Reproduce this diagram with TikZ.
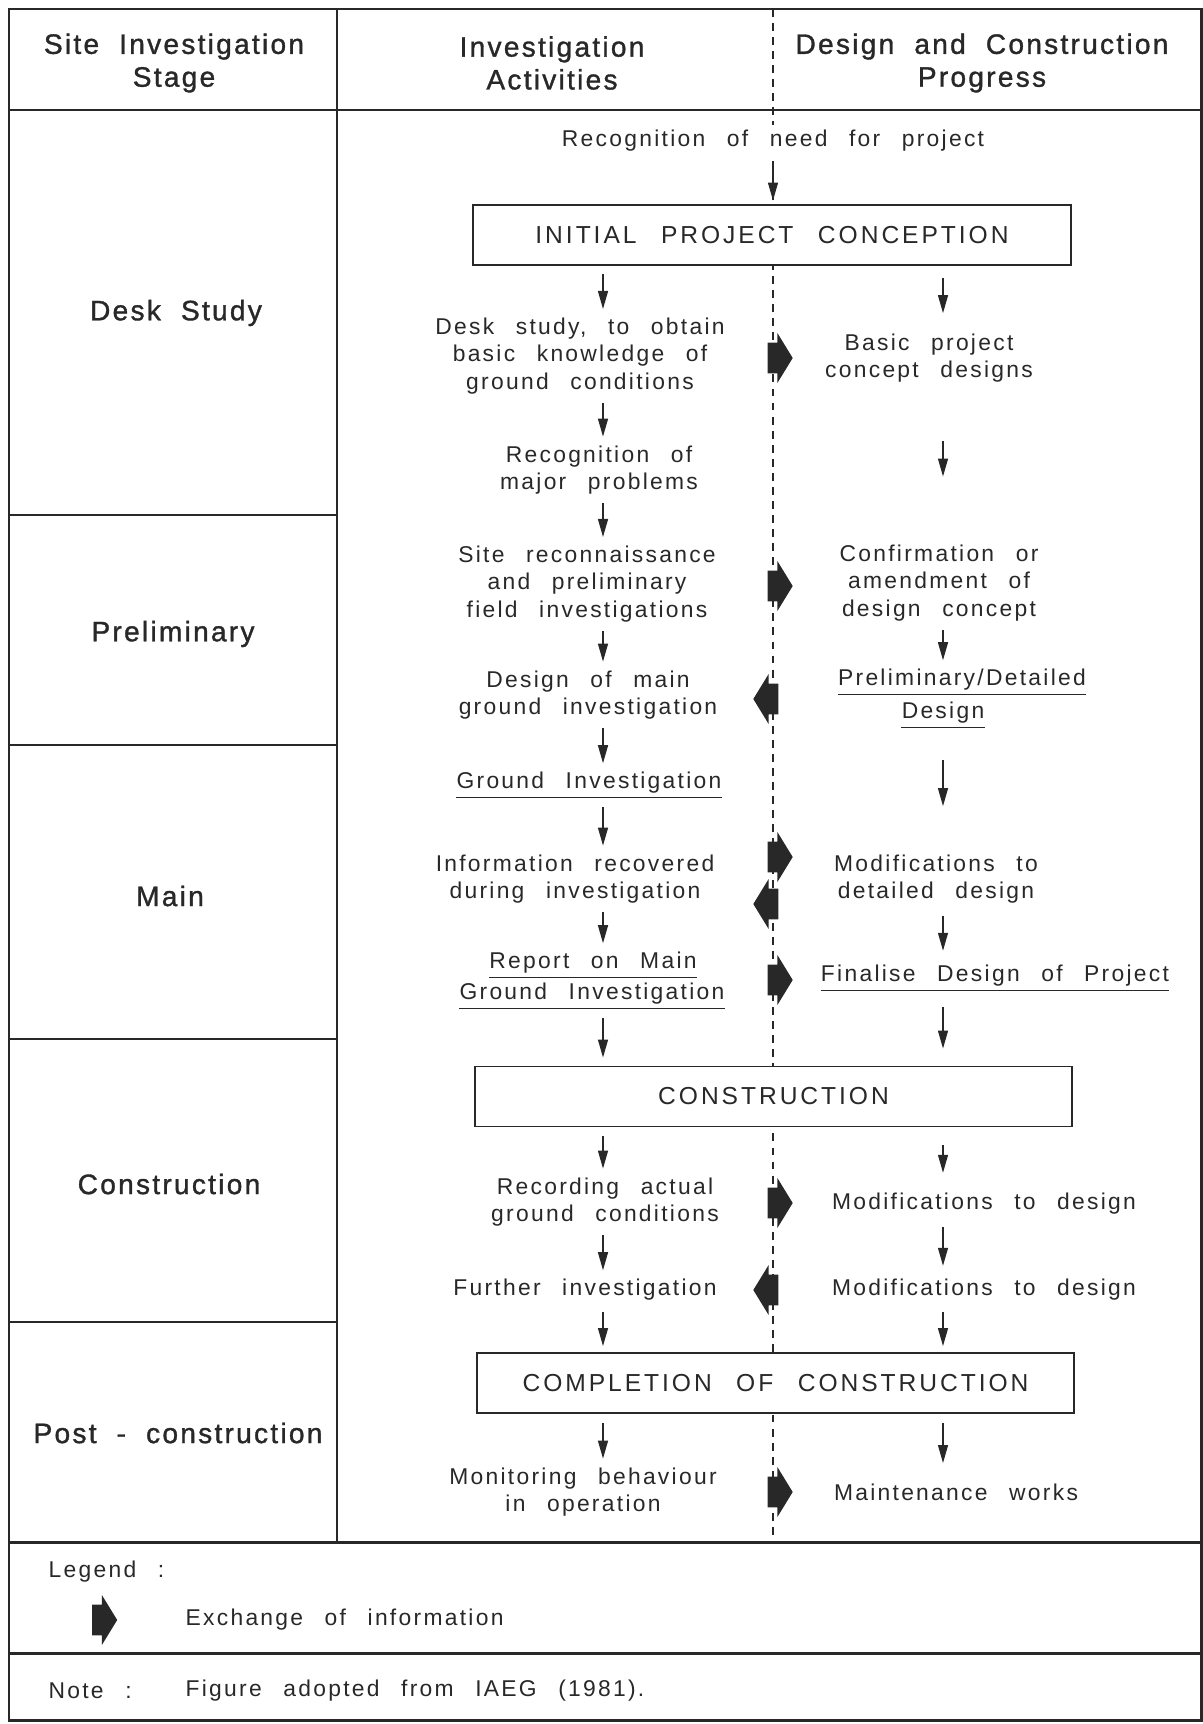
\documentclass[tikz,border=0pt]{standalone}
\usepackage{fontspec}
\setmainfont{Liberation Sans}[LetterSpace=10,WordSpace=2.5]
\newfontfamily\capsfont{Liberation Sans}[LetterSpace=12,WordSpace=2.5]
\newfontfamily\headfont{Liberation Sans}[LetterSpace=8,WordSpace=2,FakeBold=1.2]
\usetikzlibrary{arrows.meta}
\usetikzlibrary{shapes.arrows}
\definecolor{ink}{RGB}{40,40,40}

\tikzset{
  txt/.style={align=center, text=ink, inner sep=3pt, font=\fontsize{13}{15.5}\selectfont},
  ul/.style={txt, inner xsep=0pt},
  hdr/.style={align=center, text=ink, font=\headfont\fontsize{16}{18.7}\selectfont},
  bigbox/.style={draw=ink, line width=1.1pt, fill=white, minimum width=11.96cm, minimum height=1.2cm, text=ink, font=\capsfont\fontsize{14}{15}\selectfont},
  flow/.style={draw=ink, line width=0.75pt, -{Triangle[length=0.36cm,width=0.2cm]}, shorten <=2pt, shorten >=2pt},
  uline/.style={draw=ink, line width=0.8pt},
  xchg/.style={single arrow, fill=ink, draw=none, inner sep=0pt, text height=0.3cm, text depth=0.3cm, minimum height=0.5cm, single arrow head extend=0.19cm, single arrow tip angle=117}
}

\begin{document}
\begin{tikzpicture}[x=0.02cm, y=-0.02cm]
\useasboundingbox (0,0) rectangle (1203,1724);
\coordinate (colA) at (603,0);
\coordinate (colB) at (943,0);

\draw[ink, line width=0.7pt, dash pattern=on 4.5pt off 3.5pt] (773,9) -- (773,1542);
\draw[ink, line width=1.7pt] (9,9) rectangle (1201,1720);
\foreach \y in {110,1542,1653} \draw[ink, line width=1.7pt] (9,\y) -- (1201,\y);
\draw[ink, line width=0.9pt] (337,9) -- (337,1542);
\foreach \y in {515,745,1039,1322} \draw[ink, line width=0.9pt] (9,\y) -- (337,\y);

\node[hdr] (hstage) at (174,63) {Site Investigation\\Stage};
\node[hdr] (hact) at (552,63) {Investigation\\Activities};
\node[hdr] (hdes) at (982,63) {Design and Construction\\Progress};

\node[hdr] (sdesk) at (176,313) {Desk Study};
\node[hdr] (sprel) at (173,634) {Preliminary};
\node[hdr] (smain) at (170,896) {Main};
\node[hdr] (scons) at (169,1184) {Construction};
\node[hdr] (spost) at (178,1433) {Post - construction};

\node[txt, fill=white] (need) at (773,141) {Recognition of need for project};
\node[bigbox] (init) at (772,235) {INITIAL PROJECT CONCEPTION};
\node[bigbox] (cons) at (773.5,1096.5) {CONSTRUCTION};
\node[bigbox] (compl) at (775.5,1383) {COMPLETION OF CONSTRUCTION};

\node[txt] (desk) at (580,356) {Desk study, to obtain\\basic knowledge of\\ground conditions};
\node[txt] (major) at (599,470) {Recognition of\\major problems};
\node[txt] (recon) at (587,584) {Site reconnaissance\\and preliminary\\field investigations};
\node[txt] (maingi) at (588,695) {Design of main\\ground investigation};
\node[ul] (gi) at (589,783) {Ground Investigation};
\node[txt] (info) at (575,879) {Information recovered\\during investigation};
\node[ul] (report1) at (593,963) {Report on Main};
\node[ul] (report2) at (592,994) {Ground Investigation};
\node[txt] (record) at (605,1202) {Recording actual\\ground conditions};
\node[txt] (further) at (585,1290) {Further investigation};
\node[txt] (monitor) at (583,1492) {Monitoring behaviour\\in operation};

\node[txt] (basic) at (929,358) {Basic project\\concept designs};
\node[txt] (confirm) at (939,583) {Confirmation or\\amendment of\\design concept};
\node[ul] (prelim1) at (962,680) {Preliminary/Detailed};
\node[ul] (prelim2) at (943,713) {Design};
\node[txt] (modif) at (936,879) {Modifications to\\detailed design};
\node[ul] (final) at (995,976) {Finalise Design of Project};
\node[txt] (mdes1) at (984,1204) {Modifications to design};
\node[txt] (mdes2) at (984,1290) {Modifications to design};
\node[txt] (maint) at (956,1492) {Maintenance works};

\foreach \n in {gi,report1,report2,prelim1,prelim2,final} \draw[uline] ([yshift=-5pt]\n.base west) -- ([yshift=-5pt]\n.base east);

\draw[flow] (need.south) -- (need.south |- init.north);
\draw[flow, shorten <=0.16cm] (init.south -| colA) -- (desk.north -| colA);
\draw[flow] (desk.south -| colA) -- (major.north -| colA);
\draw[flow] (major.south -| colA) -- (recon.north -| colA);
\draw[flow] (recon.south -| colA) -- (maingi.north -| colA);
\draw[flow] (maingi.south -| colA) -- (gi.north -| colA);
\draw[flow, shorten <=0.16cm] (gi.south -| colA) -- (info.north -| colA);
\draw[flow] (info.south -| colA) -- (report1.north -| colA);
\draw[flow, shorten <=0.16cm, shorten >=0.16cm] (report2.south -| colA) -- (cons.north -| colA);
\draw[flow, shorten <=0.18cm] (cons.south -| colA) -- (record.north -| colA);
\draw[flow] (record.south -| colA) -- (further.north -| colA);
\draw[flow, shorten <=0.12cm, shorten >=0.12cm] (further.south -| colA) -- (compl.north -| colA);
\draw[flow, shorten <=0.18cm] (compl.south -| colA) -- (monitor.north -| colA);

\draw[flow, shorten <=0.24cm, shorten >=0.3cm] (init.south -| colB) -- (basic.north -| colB);
\draw[flow, shorten <=1.06cm, shorten >=1.26cm] (basic.south -| colB) -- (confirm.north -| colB);
\draw[flow] (confirm.south -| colB) -- (prelim1.north -| colB);
\draw[flow, shorten <=0.62cm, shorten >=0.86cm] (prelim2.south -| colB) -- (modif.north -| colB);
\draw[flow, shorten <=0.14cm, shorten >=0.18cm] (modif.south -| colB) -- (final.north -| colB);
\draw[flow, shorten <=0.3cm, shorten >=0.34cm] (final.south -| colB) -- (cons.north -| colB);
\draw[flow, shorten <=0.36cm, shorten >=0.3cm] (cons.south -| colB) -- (mdes1.north -| colB);
\draw[flow, shorten <=0.14cm, shorten >=0.16cm] (mdes1.south -| colB) -- (mdes2.north -| colB);
\draw[flow, shorten <=0.12cm, shorten >=0.12cm] (mdes2.south -| colB) -- (compl.north -| colB);
\draw[flow, shorten <=0.18cm, shorten >=0.3cm] (compl.south -| colB) -- (maint.north -| colB);

\foreach \y [count=\i] in {358,586,857,980,1203,1492} \node[xchg] (xr\i) at (775.5,\y) {};
\foreach \y [count=\i] in {699,904,1290} \node[xchg, shape border rotate=180] (xl\i) at (770.5,\y) {};

\node[txt, anchor=west] (leg) at (43,1572) {Legend :};
\node[xchg] (legarr) at (100,1620) {};
\node[txt, anchor=west] (legtxt) at (180,1620) {Exchange of information};
\node[txt, anchor=west] (note) at (43,1691) {Note :};
\node[txt, anchor=west] (notetxt) at (180,1691) {Figure adopted from IAEG (1981).};
\end{tikzpicture}
\end{document}
